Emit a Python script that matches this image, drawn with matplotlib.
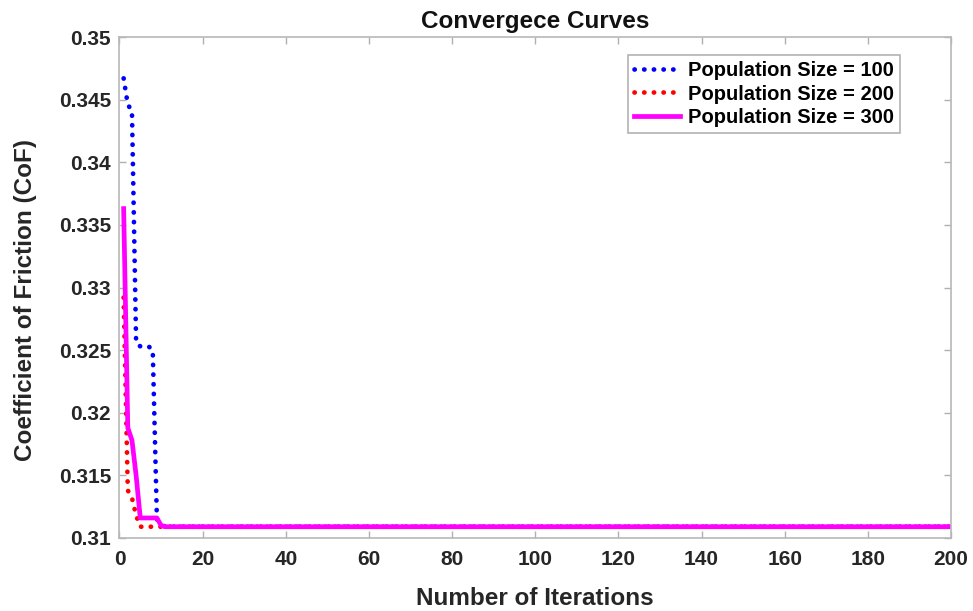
import matplotlib
matplotlib.use("Agg")
import matplotlib.pyplot as plt
import numpy as np

plt.rcParams['font.family'] = ['Liberation Sans', 'DejaVu Sans']
plt.rcParams['font.weight'] = 'bold'

n_iter = 200
final_value = 0.3109

head_100 = [0.3467, 0.3446, 0.3441, 0.3256, 0.3253, 0.3253, 0.3253, 0.3250, 0.3115, 0.3111]
head_200 = [0.3292, 0.3138, 0.3132, 0.3118, 0.3109, 0.3109, 0.3109, 0.3109, 0.3109, 0.3109]
head_300 = [0.3363, 0.3188, 0.3178, 0.3150, 0.3116, 0.3116, 0.3116, 0.3116, 0.3116, 0.3110]

iterations = np.arange(1, n_iter + 1)
pop_100 = head_100 + [final_value] * (n_iter - len(head_100))
pop_200 = head_200 + [final_value] * (n_iter - len(head_200))
pop_300 = head_300 + [final_value] * (n_iter - len(head_300))

labels = ['Population Size = 100', 'Population Size = 200', 'Population Size = 300']
xticks = list(range(0, 201, 20))
yticks = [0.31, 0.315, 0.32, 0.325, 0.33, 0.335, 0.34, 0.345, 0.35]
ytick_labels = ['0.31', '0.315', '0.32', '0.325', '0.33', '0.335', '0.34', '0.345', '0.35']

fig = plt.figure(figsize=(9.73, 6.11), dpi=100)
ax = fig.add_axes([0.1228, 0.1195, 0.8546, 0.8199])

dot = (0, (0.05, 2.0))
ax.plot(iterations, pop_100, color='#0000ff', linestyle=dot, linewidth=3.4,
        dash_capstyle='round', label=labels[0])
ax.plot(iterations, pop_200, color='#ff0000', linestyle=dot, linewidth=3.4,
        dash_capstyle='round', label=labels[1])
ax.plot(iterations, pop_300, color='#ff00ff', linestyle='-', linewidth=3.4, label=labels[2])

ax.set_xlim(0, 200)
ax.set_ylim(0.31, 0.35)
ax.set_xticks(xticks)
ax.set_xticklabels([str(t) for t in xticks])
ax.set_yticks(yticks)
ax.set_yticklabels(ytick_labels)

for s in ax.spines.values():
    s.set_color('#b8b8b8')
    s.set_linewidth(1.2)
ax.tick_params(direction='in', length=5, width=1, color='#b0b0b0',
               labelsize=15, labelcolor='#262626', top=True, right=True)
ax.tick_params(axis='y', pad=6)
ax.tick_params(axis='x', pad=9)
for lab in ax.get_xticklabels() + ax.get_yticklabels():
    lab.set_fontweight('bold')

ax.set_title('Convergece Curves', fontsize=17.5, fontweight='bold', color='#111111',
             y=1.018, pad=0)
ax.set_xlabel('Number of Iterations', fontsize=17.5, fontweight='bold', color='#262626')
ax.xaxis.set_label_coords(0.5, -0.098)
ax.set_ylabel('Coefficient of Friction (CoF)', fontsize=17.5, fontweight='bold', color='#262626')
ax.yaxis.set_label_coords(-0.1136, 0.475)
ax.yaxis.label.set_verticalalignment('center')

leg = ax.legend(loc='upper right', bbox_to_anchor=(0.9387, 0.964),
                prop={'weight': 'bold', 'size': 14.5}, handlelength=2.3,
                frameon=True, fancybox=False, borderpad=0.3, labelspacing=0.22,
                handletextpad=0.4, borderaxespad=0.0)
leg.get_frame().set_edgecolor('#a0a0a0')
leg.get_frame().set_linewidth(1.2)

fig.savefig('out.png', dpi=100)
